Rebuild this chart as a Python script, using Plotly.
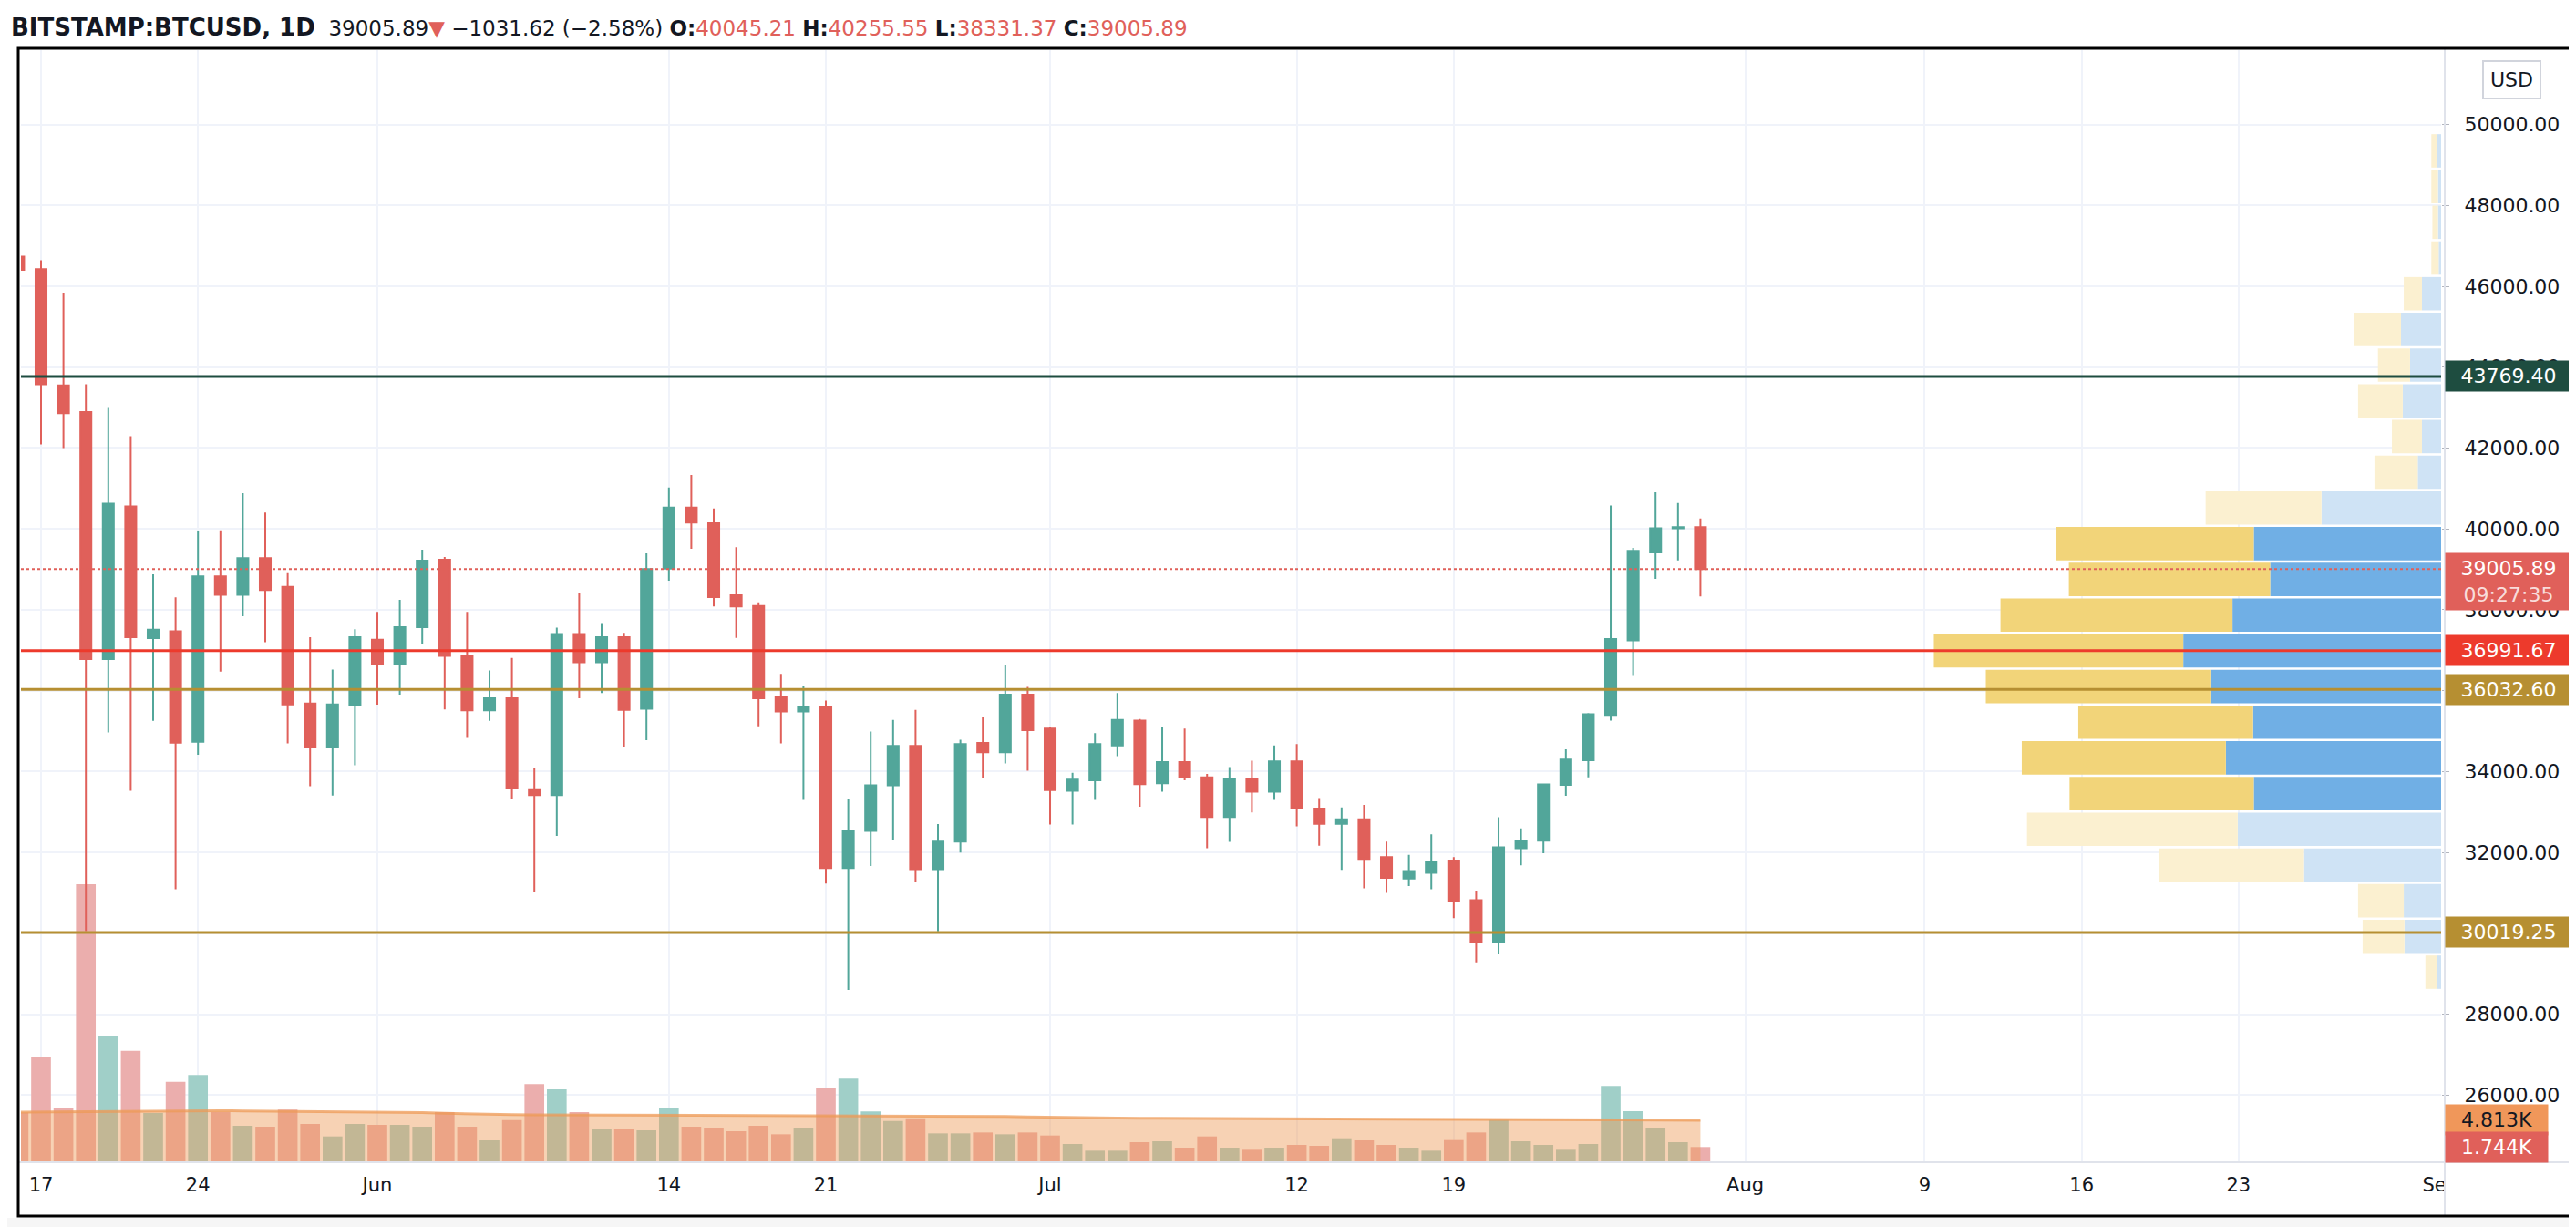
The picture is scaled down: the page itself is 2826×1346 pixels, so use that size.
import pandas as pd
import plotly.graph_objects as go

# ---- daily candles, BITSTAMP:BTCUSD 16 May - 30 Jul 2021 ----
dates = pd.date_range("2021-05-16", "2021-07-30", freq="D")

opens = [46733, 46422, 43548, 42890, 36781, 40559, 37299, 37467, 34736, 38824, 38372, 39279, 38566, 35682, 34619, 35642,
         37261, 36666, 37570, 39240, 36860, 35510, 35812, 33560, 33418, 37403, 36704, 37324, 35550, 39017, 40530, 40138,
         38361, 38091, 35839, 35483, 35586, 31614, 32530, 33661, 34633, 31587, 32268, 34707, 34475, 35904,
         35063, 33521, 33782, 34643, 35259, 33707, 34231, 33857, 32877, 33830, 33503, 34249, 33082, 32708, 32820, 31885,
         31353, 31493, 31801, 30820, 29783, 32101, 32289, 33670, 34279, 35399, 37241, 39418, 40016, 40045.21]
highs = [49790, 46641, 45840, 43575, 42993, 42295, 38876, 38309, 39951, 39964, 40884, 40405, 38904, 37324, 36521, 37518,
         37948, 38243, 39486, 39303, 37948, 36496, 36808, 34088, 37558, 38426, 37673, 37428, 39396, 41026, 41335, 40503,
         39549, 38185, 36415, 36109, 35755, 33316, 34989, 35277, 35521, 32698, 34784, 35363, 36620, 36091,
         35100, 33970, 34950, 35942, 35300, 35090, 35063, 33940, 34109, 34267, 34643, 34680, 33343, 33109, 33176, 32268,
         31941, 32446, 31885, 31053, 32868, 32595, 33700, 34550, 35446, 40577, 39531, 40904, 40643, 40255.55]
lows = [43820, 42088, 41997, 30052, 34968, 33521, 35255, 31086, 34413, 36469, 37841, 37196, 34698, 33636, 33404, 34152,
        35653, 35901, 37144, 35535, 34828, 35255, 33326, 31022, 32407, 35812, 35940, 34619, 34775, 38718, 39511, 38082,
        37306, 35119, 34698, 33296, 31230, 28596, 31661, 32306, 31258, 30044, 31997, 33848, 34201, 34017,
        32689, 32689, 33296, 34380, 33129, 33503, 33782, 32101, 32259, 32987, 33296, 32642, 32166, 31567, 31109, 30997,
        31165, 31090, 30371, 29278, 29502, 31680, 31979, 33400, 33857, 35259, 36362, 38765, 39222, 38331.37]
closes = [46409, 43575, 42863, 36781, 40624, 37324, 37507, 34712, 38824, 38372, 39279, 38489, 35657, 34619, 35657, 37324,
          36666, 37570, 39214, 36860, 35510, 35812, 33585, 33418, 37403, 36704, 37324, 35523, 39008, 40530, 40156, 38316,
          38082, 35812, 35483, 35586, 31614, 32530, 33661, 34633, 31587, 32268, 34680, 34475, 35904, 35025,
          33539, 33801, 34680, 35277, 33688, 34231, 33857, 32877, 33830, 33503, 34249, 33100, 32708, 32820, 31840, 31371,
          31540, 31763, 30791, 29783, 32128, 32297, 33679, 34297, 35417, 37277, 39455, 40016, 40045, 39005.89]
volumes = [5700, 12006, 6160, 31860, 14442, 12772, 5638, 9222, 9988, 5742, 4176, 4072, 6020, 4385, 2958, 4385,
           4280, 4280, 4072, 5742, 4072, 2506, 4837, 8944, 8352, 5742, 3758, 3758, 3654, 6160, 4072, 3967,
           3550, 4176, 3202, 3967, 8491, 9570, 5812, 4733, 5046, 3306, 3306, 3410, 3202, 3410,
           3062, 2088, 1322, 1322, 2297, 2401, 1670, 2958, 1670, 1531, 1670, 1984, 1879, 2749, 2506, 1984,
           1670, 1322, 2540, 3410, 4837, 2401, 1984, 1531, 2088, 8735, 5846, 3967, 2297, 1744]
volume_ma = [5740, 5760, 5780, 5800, 5820, 5840, 5860, 5900, 5910, 5900, 5880, 5860, 5840, 5820,
             5800, 5780, 5760, 5740, 5700, 5600, 5540, 5480, 5450, 5440, 5430, 5430, 5420, 5420,
             5410, 5400, 5400, 5390, 5380, 5360, 5340, 5330, 5320, 5320, 5310, 5320, 5340, 5330,
             5310, 5290, 5250, 5200, 5150, 5100, 5080, 5060, 5050, 5040, 5040, 5030, 5030, 5020,
             5020, 5010, 5010, 5000, 5000, 4990, 4980, 4970, 4960, 4950, 4940, 4930, 4910, 4900,
             4890, 4880, 4860, 4840, 4825, 4813]

# ---- visible range volume profile, rows bottom -> top ----
vp_rows = 24
vp_up = [390, 3150, 3210, 11790, 17490, 16110, 18510, 16170, 19770, 22170, 17940, 14700,
         16110, 10290, 2010, 1650, 3300, 2670, 3450, 1650, 210, 270, 270, 390]
vp_down = [960, 3600, 3930, 12510, 18120, 15840, 17550, 15030, 19380, 21450, 19950, 17310,
           16980, 9960, 3720, 2580, 3840, 2760, 4020, 1560, 630, 480, 570, 450]
value_area = (5, 12)

# ---- horizontal levels ----
level_prices = [43769.40, 36991.67, 36032.60, 30019.25]
level_colors = ["#1E4D40", "#ED3A2C", "#B68F32", "#B68F32"]

last_price = 39005.89
countdown = "09:27:35"
change, change_pct = -1031.62, -2.58

tick_dates = ["2021-05-17", "2021-05-24", "2021-06-01", "2021-06-14", "2021-06-21", "2021-07-01", "2021-07-12",
              "2021-07-19", "2021-08-01", "2021-08-09", "2021-08-16", "2021-08-23", "2021-09-01"]
tick_labels = ["17", "24", "Jun", "14", "21", "Jul", "12", "19", "Aug", "9", "16", "23", "Sep"]

FONT = "DejaVu Sans"
TXT = "#131722"
UP, DOWN = "#52A69A", "#E0605A"

W, H = 2826, 1346
ML, MR, MT, MB = 15, 156, 47, 79
PW, PH = W - ML - MR, H - MT - MB


def px(x):
    return (x - ML) / PW


def py(y):
    return (H - MB - y) / PH


fig = go.Figure()

vol_colors = ["#A0CFC8" if c >= o else "#EBAEAD" for o, c in zip(opens, closes)]
fig.add_trace(go.Bar(x=dates, y=volumes, marker=dict(color=vol_colors, line=dict(width=0)),
                     width=0.88 * 86400000, hoverinfo="skip", xaxis="x", yaxis="y"))
fig.add_trace(go.Scatter(x=dates, y=volume_ma, mode="lines", fill="tozeroy",
                         fillcolor="rgba(237,153,85,0.44)", line=dict(color="rgba(237,153,85,0.75)", width=3),
                         hoverinfo="skip", xaxis="x", yaxis="y"))

fig.add_trace(go.Candlestick(
    x=dates, open=opens, high=highs, low=lows, close=closes,
    increasing=dict(line=dict(color=UP, width=2), fillcolor=UP),
    decreasing=dict(line=dict(color=DOWN, width=2), fillcolor=DOWN),
    whiskerwidth=0, hoverinfo="skip", xaxis="x", yaxis="y2"))

lo, hi = min(lows), max(highs)
step = (hi - lo) / vp_rows
centers = [lo + (i + 0.5) * step for i in range(vp_rows)]
in_va = [value_area[0] <= i <= value_area[1] for i in range(vp_rows)]
fig.add_trace(go.Bar(orientation="h", y=centers, x=vp_up, base=[0] * vp_rows, width=step * 0.935,
                     marker=dict(color=["#70AFE5" if v else "#CFE3F5" for v in in_va], line=dict(width=0)),
                     hoverinfo="skip", xaxis="x2", yaxis="y2"))
fig.add_trace(go.Bar(orientation="h", y=centers, x=vp_down, base=vp_up, width=step * 0.935,
                     marker=dict(color=["#F2D479" if v else "#FBF0D0" for v in in_va], line=dict(width=0)),
                     hoverinfo="skip", xaxis="x2", yaxis="y2"))

shapes = [
    # page shadow under the frame
    dict(type="rect", xref="paper", yref="paper", x0=px(0), x1=px(W), y0=py(H), y1=py(1328),
         fillcolor="#F6F6F6", line_width=0, layer="above"),
    # hide the part of the last date label that runs under the price scale
    dict(type="rect", xref="paper", yref="paper", x0=px(2675), x1=px(2819), y0=py(1269), y1=py(1324),
         fillcolor="white", line_width=0, layer="above"),
    dict(type="line", xref="paper", yref="paper", x0=px(2674), x1=px(2674), y0=py(45), y1=py(1326),
         line=dict(color="#E0E3EB", width=2), layer="above"),
    dict(type="line", xref="paper", yref="paper", x0=px(12), x1=px(2822), y0=py(1267), y1=py(1267),
         line=dict(color="#E0E3EB", width=2), layer="above"),
]
for p, c in zip(level_prices, level_colors):
    shapes.append(dict(type="line", xref="paper", yref="y2", x0=0, x1=1, y0=p, y1=p,
                       line=dict(color=c, width=3), layer="above"))
shapes.append(dict(type="line", xref="paper", yref="y2", x0=0, x1=1, y0=last_price, y1=last_price,
                   line=dict(color=DOWN, width=2, dash="dot"), layer="above"))
shapes.append(dict(type="rect", xref="paper", yref="paper", x0=px(12), x1=px(2822), y0=py(1326), y1=py(45),
                   line=dict(color="#000000", width=3), layer="above"))


def tag(y, text, bg, fg="white", yref="y2", w=130, yshift=0):
    return dict(xref="paper", x=1, xanchor="left", xshift=4, yref=yref, y=y, yanchor="middle", yshift=yshift,
                text=text, showarrow=False, bgcolor=bg, width=w, align="center", borderpad=4,
                font=dict(family=FONT, size=22, color=fg))


annotations = [tag(p, f"{p:.2f}", c) for p, c in zip(level_prices, level_colors)]
annotations.append(tag(last_price, f"{last_price:.2f}<br><span style='color:rgba(255,255,255,0.8)'>{countdown}</span>",
                       DOWN, yshift=-14))
annotations.append(tag(volume_ma[-1], f"{volume_ma[-1] / 1000:.3f}K", "#F0975A", fg=TXT, yref="y", w=104))
annotations.append(tag(volumes[-1], f"{volumes[-1] / 1000:.3f}K", DOWN, yref="y", w=104))
annotations.append(dict(xref="paper", yref="paper", x=px(2748), y=py(79), xanchor="center", yanchor="middle",
                        text="USD", showarrow=False, bgcolor="white", bordercolor="#D1D4DC", borderwidth=2,
                        borderpad=7, font=dict(family=FONT, size=22, color=TXT)))

sp = "\u00a0"
red = lambda s: f"<span style='color:{DOWN}'>{s}</span>"
header = (f"<b><span style='font-size:26px'>BITSTAMP:BTCUSD, 1D</span></b>{sp}{sp}{last_price:.2f}{red('▼')}{sp}"
          f"−{abs(change):.2f}{sp}(−{abs(change_pct):.2f}%){sp}"
          f"<b>O:</b>{red(f'{opens[-1]:.2f}')}{sp}<b>H:</b>{red(f'{highs[-1]:.2f}')}{sp}"
          f"<b>L:</b>{red(f'{lows[-1]:.2f}')}{sp}<b>C:</b>{red(f'{closes[-1]:.2f}')}")
annotations.append(dict(xref="paper", yref="paper", x=px(2), y=py(22), xanchor="left", yanchor="middle",
                        text=header, showarrow=False, font=dict(family=FONT, size=23, color=TXT)))

fig.update_layout(
    width=W, height=H,
    margin=dict(l=ML, r=MR, t=MT, b=MB),
    paper_bgcolor="white", plot_bgcolor="white",
    showlegend=False, hovermode=False, dragmode=False,
    barmode="overlay", boxgap=0.3,
    font=dict(family=FONT, size=21, color=TXT),
    xaxis=dict(type="date", range=["2021-05-16 02:32", "2021-09-01 00:45"],
               tickvals=tick_dates, ticktext=tick_labels, ticks="", ticklabelstandoff=10,
               showgrid=True, gridcolor="#F0F3FA", gridwidth=2, zeroline=False, showline=False,
               rangeslider=dict(visible=False), tickfont=dict(family=FONT, size=21, color=TXT)),
    xaxis2=dict(overlaying="x", range=[208100, 0], visible=False, showgrid=False),
    yaxis=dict(range=[0, 127400], visible=False, showgrid=False, fixedrange=True),
    yaxis2=dict(overlaying="y", side="right", range=[24337, 51839], dtick=2000, tick0=0,
                tickformat=".2f", showgrid=True, gridcolor="#F0F3FA", gridwidth=2, zeroline=False,
                ticks="outside", ticklen=8, tickcolor="#B2B5BE", ticklabelstandoff=12,
                tickfont=dict(family=FONT, size=22, color=TXT)),
    shapes=shapes,
    annotations=annotations,
)

fig.write_html("out.html")
